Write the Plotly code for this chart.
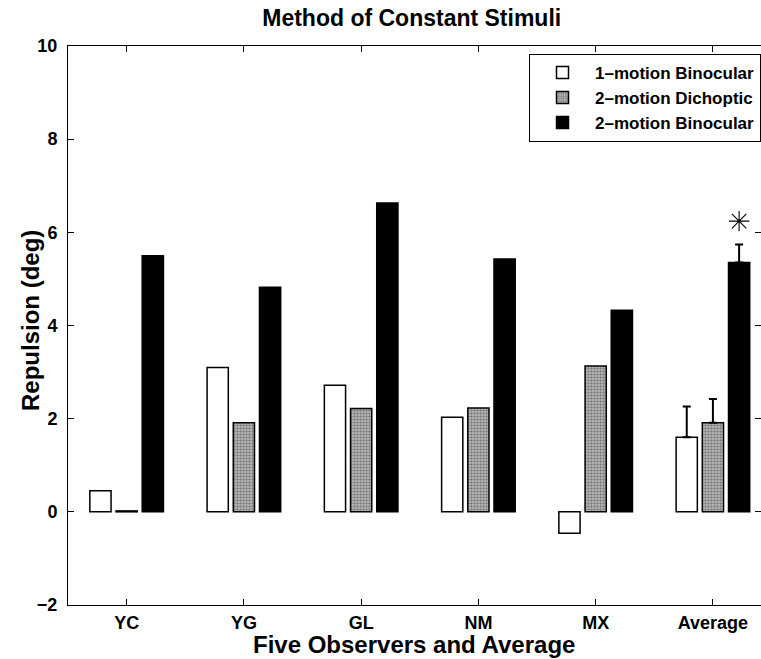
import plotly.graph_objects as go

# ---- data ----
categories = ["YC", "YG", "GL", "NM", "MX", "Average"]
one_motion_binocular = [0.45, 3.10, 2.72, 2.03, -0.46, 1.60]
two_motion_dichoptic = [0.02, 1.91, 2.22, 2.23, 3.13, 1.91]
two_motion_binocular = [5.50, 4.82, 6.63, 5.43, 4.33, 5.35]
# standard errors, shown for the Average group only (order: series 1, 2, 3)
average_errors = [0.66, 0.51, 0.39]
significance_y = [6.24]          # asterisk above Average, 2-motion Binocular
y_ticks = [-2, 0, 2, 4, 6, 8, 10]

series = [
    ("1\u2013motion Binocular", one_motion_binocular),
    ("2\u2013motion Dichoptic", two_motion_dichoptic),
    ("2\u2013motion Binocular", two_motion_binocular),
]

# ---- styling ----
FONT = "Liberation Sans, Arial, Helvetica, sans-serif"
BARGAP = 0.33
BARGROUPGAP = 0.19
positions = list(range(1, len(categories) + 1))
slot = (1 - BARGAP) / len(series)          # width of one bar slot in a group
offsets = [(k - (len(series) - 1) / 2) * slot for k in range(len(series))]

markers = [
    dict(color="white", line=dict(color="black", width=1.5)),
    dict(color="#b8b8b8", line=dict(color="black", width=1.5),
         pattern=dict(shape=".", fgcolor="#303030", bgcolor="#c4c4c4",
                      size=3, solidity=0.5)),
    dict(color="black", line=dict(color="black", width=1.5)),
]

fig = go.Figure()
for (name, vals), mk in zip(series, markers):
    fig.add_trace(go.Bar(name=name, x=positions, y=vals, marker=mk))

# error bars on the Average group (upper half only)
avg_idx = categories.index("Average")
fig.add_trace(go.Scatter(
    x=[positions[avg_idx] + o for o in offsets],
    y=[s[1][avg_idx] for s in series],
    mode="markers", marker=dict(size=1, color="rgba(0,0,0,0)"),
    error_y=dict(type="data", symmetric=False, array=average_errors,
                 arrayminus=[0, 0, 0], color="black", thickness=2, width=4),
    showlegend=False, hoverinfo="skip"))

# asterisk above the black bar of the Average group
fig.add_trace(go.Scatter(
    x=[positions[avg_idx] + offsets[2]], y=significance_y, mode="markers",
    marker=dict(symbol="asterisk-open", size=17, color="black",
                line=dict(color="black", width=1.1)),
    showlegend=False, hoverinfo="skip"))

axis_common = dict(showline=True, linecolor="black", linewidth=1,
                   mirror="ticks", ticks="inside", ticklen=6, tickwidth=1,
                   tickcolor="black", showgrid=False, zeroline=False)

plot_top, plot_bottom, plot_left, plot_w = 46, 605, 68, 693

fig.update_layout(
    width=761, height=659, autosize=False,
    margin=dict(l=68, r=0, t=46, b=54),
    paper_bgcolor="white", plot_bgcolor="white",
    barmode="group", bargap=BARGAP, bargroupgap=BARGROUPGAP,
    font=dict(family=FONT, color="black"),
    title=dict(text="Method of Constant Stimuli", x=0.496, xref="paper",
               xanchor="center", y=1 - 18 / 659, yref="container",
               yanchor="middle",
               font=dict(size=23, weight="bold", family=FONT)),
    xaxis=dict(range=[0.5, 6.41], tickvals=positions, ticktext=categories,
               tickfont=dict(size=18, weight="bold", family=FONT),
               ticklabelstandoff=1, **axis_common),
    yaxis=dict(range=[-2, 10], tickvals=y_ticks,
               tickfont=dict(size=18, weight="bold", family=FONT),
               ticklabelstandoff=6, **axis_common),
    legend=dict(x=1, xanchor="right", y=0.986, yanchor="top",
                bgcolor="white", bordercolor="black", borderwidth=1,
                font=dict(size=17, weight="bold", family=FONT),
                itemwidth=55, traceorder="normal", tracegroupgap=0),
    showlegend=True,
    annotations=[
        dict(text="Five Observers and Average", xref="paper", yref="paper",
             x=0.499, y=-(644 - plot_bottom) / (plot_bottom - plot_top),
             xanchor="center", yanchor="middle", showarrow=False,
             font=dict(size=24, weight="bold", family=FONT)),
        dict(text="Repulsion (deg)", xref="paper", yref="paper",
             x=-(plot_left - 30) / plot_w, y=0.508, textangle=-90,
             xanchor="center", yanchor="middle", showarrow=False,
             font=dict(size=24, weight="bold", family=FONT)),
    ],
)

fig.write_html("out.html")
